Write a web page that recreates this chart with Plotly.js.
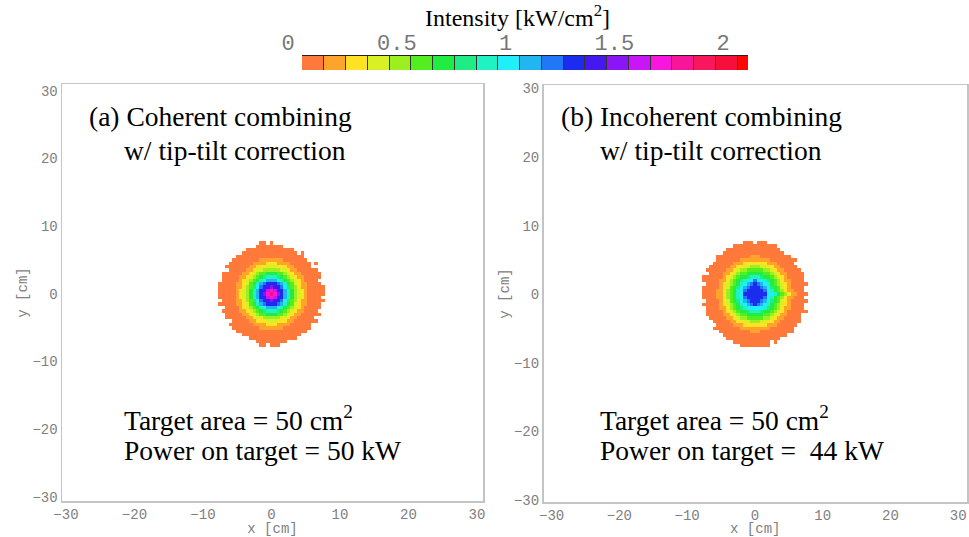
<!DOCTYPE html>
<html><head><meta charset="utf-8">
<script src="https://cdn.plot.ly/plotly-3.0.1.min.js"></script>
<style>html,body{margin:0;padding:0;background:#fff}#chart{width:969px;height:537px}</style>
</head><body><div id="chart"></div>
<script>
// cell centres of the intensity grid (cm)
const gridCoords = [-8,-7.5,-7,-6.5,-6,-5.5,-5,-4.5,-4,-3.5,-3,-2.5,-2,-1.5,-1,-0.5,0,0.5,1,1.5,2,2.5,3,3.5,4,4.5,5,5.5,6,6.5,7,7.5,8];
// intensity band codes: '.' = below 0, '1' = band 1 (0-0.1), ... 'k' = band 21 (2.0-2.05)
const levelCodes = '.123456789abcdefghijk';
const bandEdges = [0,0.1,0.2,0.3,0.4,0.5,0.6,0.7,0.8,0.9,1.0,1.1,1.2,1.3,1.4,1.5,1.6,1.7,1.8,1.9,2.0,2.05];
const bandMids  = [0.05,0.15,0.25,0.35,0.45,0.55,0.65,0.75,0.85,0.95,1.05,1.15,1.25,1.35,1.45,1.55,1.65,1.75,1.85,1.95,2.025];
const bandColors = ['#ff7a3a','#ffa42a','#ffe224','#d8f024','#9cf022','#52ee20','#20ec42','#20ec86','#20f2c4','#20eef8','#20b6f0','#2078f6','#1c2cee','#4418ee','#8a16f6','#c816f6','#f816de','#f81698','#f8165c','#f80e3c','#ff0606'];
const colorbarTicks = [0,0.5,1,1.5,2];
const xTicks = [-30,-20,-10,0,10,20,30];

// rows listed from y = +8 (top) to y = -8 (bottom), columns x = -8 .. +8
const coherentRows = [
".................................",
".............11.1................",
"............11111111.............",
".........11111111111111..........",
"........1111111111111111.1.......",
"......11111111111111111111.......",
".....1111111122222221111111......",
"....111111122223332222111111.1...",
"...1111111223334443332211111.....",
"....11111223445555544322111111...",
"..11111122345667776654322111111..",
"..11111223456789998765432211111..",
"..111112345679abbba97654321111...",
".111112234679bcdddcb97643221111..",
".11111223568acdefedca86532211111.",
".11111234579bdeghgedb97543211111.",
".11111234579bdfhjhfdb97543211111.",
".11111234579bdeghgedb9754321111..",
"..1111223568acdefedca86532211111.",
".111112234679bcdddcb97643221111..",
"...11112345679abbba976543211111..",
"..1111122345678999876543221111...",
"...1111122345667776654322111111..",
"...11111122344555554432211111....",
".....1111122333444333221111111...",
"....111111122223332222111111.....",
".....11111111222222211111111.....",
"......111111111111111111111......",
"........11111111111111111........",
"..........11111111111111.........",
"............111111111............",
".............11.111..............",
"................................."
];
const incoherentRows = [
".................................",
".............111.111.............",
"..........1111111111111..........",
"........1111111111111111.........",
".......111111111111111111........",
".....1111111111222111111111......",
".....111111122222222211111111....",
"....111111222333333322211111.....",
"...11111122334455544332211111....",
"..1111112234556666655432211111...",
"...1111223456677777665432211111..",
".111111234567789998776543211111..",
".1111122356789aacaa987653221111..",
"..11112345679abcdcba976543211111.",
".11111234678abcdddcba8764321111..",
".11112235679acdddddca9765322111..",
".11112235679adddddddaa9765322111.",
".11112235679acdddddca9765322111..",
"..1111234678abcdddcba87643211111.",
".111112345679abcdcba97654321111..",
"..111122356789aaaaa987653221111..",
"..111112345677899987765432111111.",
"..1111122345667777766543221111...",
"...111112234556666655432211111...",
"....11111223344555443322111111...",
".....111112223333333222111111....",
"....111111112222222221111111.....",
"......1111111112221111111111.....",
".......1111111111111111111.......",
"........1111111111111111.........",
"..........11111111111.1..........",
"............111111111............",
"................................."
];

function decode(rows) {
  const n = gridCoords.length, z = [];
  for (let r = rows.length - 1; r >= 0; r--) {
    let s = rows[r];
    while (s.length < n) s += '.';
    s = s.slice(0, n);
    z.push(Array.from(s).map(c => { const k = levelCodes.indexOf(c); return k > 0 ? bandMids[k - 1] : null; }));
  }
  return z;
}
const zMax = bandEdges[bandEdges.length - 1];
const colorscale = [];
bandColors.forEach((c, i) => { colorscale.push([bandEdges[i] / zMax, c]); colorscale.push([bandEdges[i + 1] / zMax, c]); });

const hm = (rows, xa, ya) => ({
  type: 'heatmap', x: gridCoords, y: gridCoords, z: decode(rows), xaxis: xa, yaxis: ya,
  colorscale: colorscale, zmin: 0, zmax: zMax, showscale: false, zsmooth: false, hoverongaps: false
});
const data = [
  hm(coherentRows, 'x', 'y'),
  hm(incoherentRows, 'x2', 'y2'),
  { type: 'heatmap', x: bandEdges, y: [0, 1], z: [bandMids], xaxis: 'x3', yaxis: 'y3',
    colorscale: colorscale, zmin: 0, zmax: zMax, showscale: false }
];

const mono = { family: 'Liberation Mono, Courier New, monospace', size: 14, color: '#808080' };
const serif = { family: 'Liberation Serif, Times New Roman, serif', size: 27.5, color: '#000' };
function ax(domain, range, anchor, title) {
  return { domain: domain, range: range, anchor: anchor, tickvals: xTicks, ticks: '', showline: true, mirror: true,
    linecolor: '#c4c4c4', linewidth: 1.5, showgrid: false, zeroline: false, tickfont: mono,
    title: { text: title, font: mono, standoff: 1 }, automargin: false, fixedrange: true };
}
const P = (px) => px / 969, Q = (py) => 1 - py / 537;
const ann = (x, y, text) => ({ xref: 'paper', yref: 'paper', x: P(x), y: Q(y), xanchor: 'left', yanchor: 'middle', text: text, showarrow: false, font: serif });

const layout = {
  width: 969, height: 537, margin: { l: 0, r: 0, t: 0, b: 0 },
  paper_bgcolor: '#fff', plot_bgcolor: '#fff', showlegend: false,
  xaxis: ax([P(62), P(483)], [-30.58, 30.88], 'y', 'x [cm]'),
  yaxis: ax([Q(501), Q(84)], [-30.64, 31.0], 'x', 'y [cm]'),
  xaxis2: ax([P(543.5), P(967)], [-31.2, 31.3], 'y2', 'x [cm]'),
  yaxis2: ax([Q(502), Q(85)], [-30.3, 30.5], 'x2', 'y [cm]'),
  xaxis3: { domain: [P(302), P(748)], range: [0, zMax], anchor: 'y3', side: 'top', tickvals: colorbarTicks,
    ticks: 'inside', ticklen: 14, tickwidth: 1, tickcolor: '#333',
    minor: { dtick: 0.1, tick0: 0, ticks: 'inside', ticklen: 14, tickwidth: 1, tickcolor: '#333' },
    showline: true, linecolor: '#222', linewidth: 1, showgrid: false, zeroline: false,
    tickfont: { family: 'Liberation Mono, Courier New, monospace', size: 22, color: '#777' },
    ticklabelshift: -14, ticklabelstandoff: -4, fixedrange: true },
  yaxis3: { domain: [Q(70), Q(56)], range: [0, 1], anchor: 'x3', visible: false, fixedrange: true },
  annotations: [
    { xref: 'paper', yref: 'paper', x: P(517), y: Q(16), xanchor: 'center', yanchor: 'middle',
      text: 'Intensity [kW/cm<sup>2</sup>]', showarrow: false,
      font: { family: 'Liberation Serif, Times New Roman, serif', size: 24, color: '#000' } },
    ann(87, 116, '(a) Coherent combining'),
    ann(122, 150, 'w/ tip-tilt correction'),
    ann(122, 418, 'Target area = 50 cm<sup>2</sup>'),
    ann(122, 451, 'Power on target = 50 kW'),
    ann(559, 116, '(b) Incoherent combining'),
    ann(598, 150, 'w/ tip-tilt correction'),
    ann(598, 418, 'Target area = 50 cm<sup>2</sup>'),
    ann(598, 451, 'Power on target =\u00a0 44 kW')
  ]
};
Plotly.newPlot('chart', data, layout, { displayModeBar: false, staticPlot: true });
</script>
</body></html>
